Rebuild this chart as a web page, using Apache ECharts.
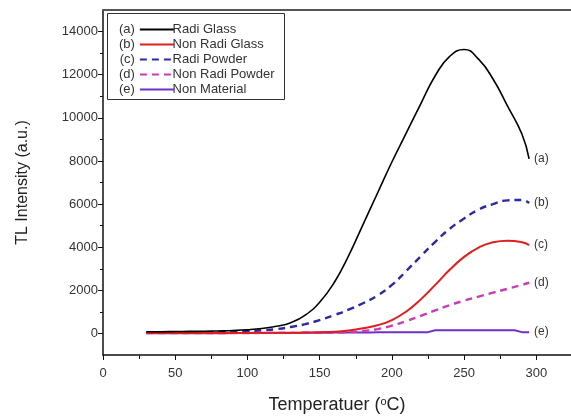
<!DOCTYPE html>
<html>
<head>
<meta charset="utf-8">
<script src="https://cdn.jsdelivr.net/npm/echarts@6/dist/echarts.min.js"></script>
<style>
  html, body { margin: 0; padding: 0; background: #fff; }
  #chart { width: 571px; height: 417px; }
</style>
</head>
<body>
<div id="chart"></div>
<script>
const temps = [30, 40, 50, 60, 70, 80, 90, 100, 110, 120, 130, 140, 150, 160, 170, 180, 190, 200, 210, 220, 230, 240, 250, 260, 270, 280, 290, 295];

const radiGlass = [80, 80, 90, 95, 100, 115, 135, 170, 230, 330, 500, 850, 1450, 2350, 3600, 5050, 6500, 7950, 9300, 10650, 11950, 12850, 13170, 12720, 11800, 10550, 9250, 8100];
const nonRadiGlass = [20, 20, 20, 20, 20, 25, 25, 25, 30, 30, 35, 40, 55, 80, 140, 240, 380, 620, 1020, 1580, 2250, 2950, 3550, 3980, 4230, 4300, 4230, 4100];
const radiPowder = [50, 50, 55, 55, 60, 70, 85, 110, 150, 200, 300, 430, 620, 850, 1100, 1400, 1760, 2250, 2900, 3580, 4250, 4850, 5330, 5740, 6000, 6170, 6190, 6050];
const nonRadiPowder = [20, 20, 20, 20, 20, 20, 20, 20, 25, 25, 25, 30, 30, 40, 60, 110, 200, 360, 580, 810, 1070, 1310, 1520, 1710, 1890, 2070, 2250, 2350];
const nonMaterial = [10, 10, 10, 10, 10, 10, 15, 20, 20, 20, 25, 30, 35, 40, 40, 45, 60, 60, 60, 60, 150, 150, 150, 150, 150, 150, 60, 60];

const names = ['Radi Glass', 'Non Radi Glass', 'Radi Powder', 'Non Radi Powder', 'Non Material'];
const legendTags = ['(a)', '(b)', '(c)', '(d)', '(e)'];
const endTags = ['(a)', '(c)', '(b)', '(d)', '(e)'];
const xTicks = [0, 50, 100, 150, 200, 250, 300];
const xMinorTicks = [25, 75, 125, 175, 225, 275];
const yTicks = [0, 2000, 4000, 6000, 8000, 10000, 12000, 14000];
const yMinorTicks = [1000, 3000, 5000, 7000, 9000, 11000, 13000];

const FONT = 'Liberation Sans, Arial, sans-serif';
const colors = ['#000000', '#e01e1e', '#2a2aa6', '#c83cb4', '#7030c8'];
const dashed = [false, false, true, true, false];
const widths = [1.6, 2, 2.4, 2.4, 2];
const values = [radiGlass, nonRadiGlass, radiPowder, nonRadiPowder, nonMaterial];

const chart = echarts.init(document.getElementById('chart'));

const series = names.map((name, i) => ({
  name: name,
  type: 'line',
  data: temps.map((t, j) => [t, values[i][j]]),
  showSymbol: false,
  symbol: 'none',
  smooth: i === 4 ? false : 0.5,
  step: i === 4 ? 'middle' : false,
  color: colors[i],
  lineStyle: { color: colors[i], width: widths[i], type: dashed[i] ? [7, 5] : 'solid' },
  endLabel: {
    show: true,
    formatter: endTags[i],
    color: '#333',
    fontFamily: FONT,
    fontSize: 12,
    distance: 5
  },
  z: 10 - i
}));

chart.setOption({
  animation: false,
  grid: { left: 103, top: 10, right: 0, bottom: 62, outerBoundsMode: 'none' },
  xAxis: [{
    type: 'value', min: 0, max: 324, position: 'bottom',
    axisLine: { onZero: false, lineStyle: { color: '#111', width: 1.5 } },
    axisTick: { customValues: xTicks, length: 5, lineStyle: { color: '#111' } },
    axisLabel: { customValues: xTicks, color: '#333', fontFamily: FONT, fontSize: 13, margin: 12 },
    splitLine: { show: false },
    name: '{t|Temperatuer (}{s|o}{t|C)}',
    nameLocation: 'middle',
    nameGap: 41,
    nameTextStyle: {
      rich: {
        t: { fontFamily: FONT, fontSize: 18, color: '#222' },
        s: { fontFamily: FONT, fontSize: 11, color: '#222', verticalAlign: 'top', padding: [0, 0, 8, 0] }
      }
    }
  }, {
    type: 'value', min: 0, max: 324, position: 'bottom',
    axisLine: { show: false, onZero: false },
    axisTick: { customValues: xMinorTicks, length: 4, lineStyle: { color: '#111' } },
    axisLabel: { show: false },
    splitLine: { show: false }
  }, {
    type: 'value', min: 0, max: 324, position: 'top',
    axisLine: { onZero: false, lineStyle: { color: '#555', width: 2 } },
    axisTick: { show: false },
    axisLabel: { show: false },
    splitLine: { show: false }
  }],
  yAxis: [{
    type: 'value', min: -1000, max: 15000, position: 'left',
    axisLine: { show: true, onZero: false, lineStyle: { color: '#111', width: 1.5 } },
    axisTick: { show: true, customValues: yTicks, length: 5, lineStyle: { color: '#111' } },
    axisLabel: { customValues: yTicks, formatter: v => String(v), color: '#333', fontFamily: FONT, fontSize: 13, margin: 5 },
    splitLine: { show: false },
    name: 'TL Intensity (a.u.)',
    nameLocation: 'middle',
    nameGap: 72,
    nameTextStyle: { fontFamily: FONT, fontSize: 16, color: '#222' }
  }, {
    type: 'value', min: -1000, max: 15000, position: 'left',
    axisLine: { show: false, onZero: false },
    axisTick: { show: true, customValues: yMinorTicks, length: 3, lineStyle: { color: '#111' } },
    axisLabel: { show: false },
    splitLine: { show: false }
  }],
  legend: [{
    orient: 'vertical', left: 114, top: 18,
    data: names, align: 'right',
    itemWidth: 34, itemHeight: 14, itemGap: 2,
    selectedMode: false,
    itemStyle: { opacity: 0 },
    formatter: name => legendTags[names.indexOf(name)],
    textStyle: { fontFamily: FONT, fontSize: 13, color: '#333' }
  }, {
    orient: 'vertical', left: 157, top: 18,
    data: names, align: 'left',
    itemWidth: 0, itemHeight: 14, itemGap: 2,
    selectedMode: false,
    itemStyle: { opacity: 0 },
    lineStyle: { opacity: 0 },
    textStyle: { fontFamily: FONT, fontSize: 13, color: '#333' }
  }],
  graphic: [{
    type: 'rect',
    shape: { x: 107.5, y: 13.5, width: 177, height: 86 },
    style: { fill: 'none', stroke: '#333', lineWidth: 1 },
    z: 100
  }],
  series: series
});
</script>
</body>
</html>
